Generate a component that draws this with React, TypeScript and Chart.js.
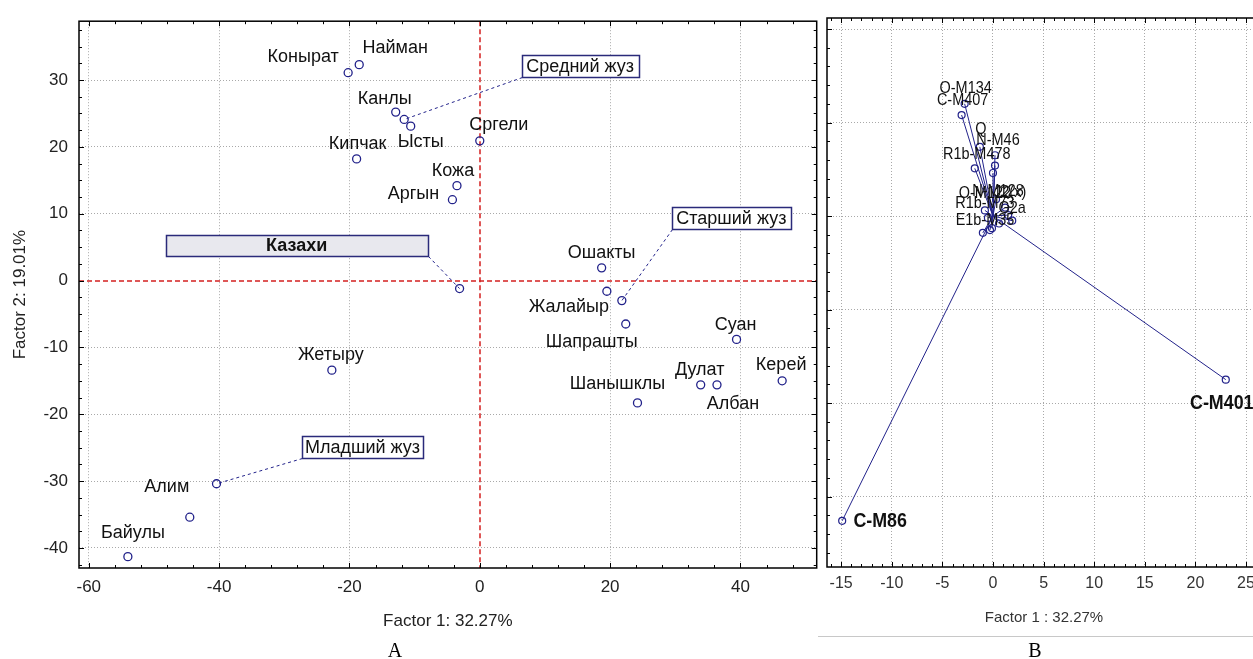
import React, { useEffect, useRef } from "react";
import { Chart, registerables } from "chart.js";
Chart.register(...registerables);

// ---------- Panel A data ----------
const CLANS = ["Конырат", "Найман", "Канлы", "", "Ысты", "Кипчак", "Сргели", "Кожа", "Аргын", "", "Ошакты", "Жалайыр", "", "Шапрашты", "Суан", "Дулат", "Албан", "Керей", "Шанышклы", "Жетыру", "", "Алим", "Байулы"];
const FACTOR1 = [-20.2, -18.5, -12.9, -11.6, -10.6, -18.9, 0.0, -3.5, -4.2, -3.1, 18.7, 19.5, 21.8, 22.4, 39.4, 33.9, 36.4, 46.4, 24.2, -22.7, -40.4, -44.5, -54.0];
const FACTOR2 = [31.1, 32.3, 25.2, 24.1, 23.1, 18.2, 20.9, 14.2, 12.1, -1.2, 1.9, -1.6, -3.0, -6.5, -8.8, -15.6, -15.6, -15.0, -18.3, -13.4, -30.4, -35.4, -41.3];
const GROUPS = ["Казахи", "Средний жуз", "Старший жуз", "Младший жуз"];
const GROUP_POINT = [9, 3, 12, 20];
const X_TICKS_A = [-60, -40, -20, 0, 20, 40];
const Y_TICKS_A = [-40, -30, -20, -10, 0, 10, 20, 30];

// ---------- Panel B data ----------
const HAPLOGROUPS = ["C-M86", "C-M401", "O-M134", "C-M407", "Q", "N-M46", "R1b-M478", "", "", "O-M122", "N-M128", "J2(x)", "R1b-M73", "G2a", "E1b-M35", "", "", "", ""];
const LOAD1 = [-14.9, 23.0, -2.8, -3.1, -1.3, 0.2, -1.8, 0.2, 0.0, -0.8, 0.3, 1.2, -0.5, 1.5, -0.3, -1.0, -0.1, 0.6, 1.9];
const LOAD2 = [-32.6, -17.5, 12.0, 10.8, 7.4, 6.5, 5.1, 5.4, 4.6, 0.6, 1.8, 0.9, -0.2, 0.1, -1.5, -1.8, -1.3, -0.8, -0.5];
const X_TICKS_B = [-15, -10, -5, 0, 5, 10, 15, 20, 25];
const Y_TICKS_B = [-30, -20, -10, 0, 10, 20];

// ---------- layout / styles ----------
const SANS = '"Liberation Sans", Arial, sans-serif';
const SERIF = '"Liberation Serif", "Times New Roman", serif';
const NAVY = "#22228a";
const GRID = "rgba(140,140,140,0.75)";

const LABEL_OFFSET_A: [number, number][] = [
  [-45, -16], [36, -17], [-11, -13], [0, 0], [10, 16], [1, -15], [19, -16], [-4, -15], [-39, -6], [0, 0],
  [0, -15], [-38, 16], [0, 0], [-34, 18], [-1, -14], [-1, -15], [16, 19], [-1, -16], [-20, -19], [-1, -15],
  [0, 0], [-23, -30], [5, -24],
];
const BOX_LAYOUT = [
  { cx: -28.1, cy: 5.26, w: 262, h: 21, fill: "#e8e8ee", bold: true, corner: "br" },
  { cx: 15.4, cy: 32.1, w: 117, h: 22, fill: "#ffffff", bold: false, corner: "bl" },
  { cx: 38.6, cy: 9.3, w: 119, h: 22, fill: "#ffffff", bold: false, corner: "bl" },
  { cx: -18.0, cy: -24.9, w: 121, h: 22, fill: "#ffffff", bold: false, corner: "bl" },
];
const LABEL_OFFSET_B: [number, number][] = [
  [38, 0], [-4, 24], [1, -16], [1, -15], [1, -18], [3, -15], [2, -14], [0, 0], [0, 0],
  [0, -17], [2, -8], [5, -15], [-3, -15], [4, -7], [-5, -10], [0, 0], [0, 0], [0, 0], [0, 0],
];

function drawFrame(chart: any, o: any) {
  const { ctx, chartArea: ca } = chart;
  const xs = chart.scales.x, ys = chart.scales.y;
  ctx.save();
  ctx.setLineDash([]);
  ctx.strokeStyle = "#000";
  ctx.lineWidth = 1.5;
  ctx.strokeRect(ca.left, ca.top, ca.right - ca.left, ca.bottom - ca.top);
  ctx.lineWidth = 1;
  ctx.beginPath();
  for (let k = Math.ceil(xs.min / o.xMinor); k * o.xMinor <= xs.max; k++) {
    const v = k * o.xMinor;
    const major = Math.abs(v / o.xMajor - Math.round(v / o.xMajor)) < 1e-6;
    const len = major ? 5 : 3;
    const px = Math.round(xs.getPixelForValue(v)) + 0.5;
    ctx.moveTo(px, ca.bottom); ctx.lineTo(px, ca.bottom - len);
    ctx.moveTo(px, ca.top); ctx.lineTo(px, ca.top + len);
  }
  for (let k = Math.ceil(ys.min / o.yMinor); k * o.yMinor <= ys.max; k++) {
    const v = k * o.yMinor;
    const major = Math.abs(v / o.yMajor - Math.round(v / o.yMajor)) < 1e-6;
    const len = major ? 5 : 3;
    const py = Math.round(ys.getPixelForValue(v)) + 0.5;
    ctx.moveTo(ca.left, py); ctx.lineTo(ca.left + len, py);
    ctx.moveTo(ca.right, py); ctx.lineTo(ca.right - len, py);
  }
  ctx.stroke();
  ctx.restore();
}

function narrowText(ctx: any, text: string, x: number, y: number, k: number) {
  ctx.save();
  ctx.translate(x, y);
  ctx.scale(k, 1);
  ctx.fillText(text, 0, 0);
  ctx.restore();
}

const pluginA = {
  id: "panelA",
  beforeDatasetsDraw(chart: any) {
    const { ctx, chartArea: ca } = chart;
    const xs = chart.scales.x, ys = chart.scales.y;
    ctx.save();
    ctx.strokeStyle = "#d42020";
    ctx.lineWidth = 1.5;
    ctx.setLineDash([5, 3]);
    const x0 = Math.round(xs.getPixelForValue(0));
    const y0 = Math.round(ys.getPixelForValue(0));
    ctx.beginPath();
    ctx.moveTo(x0, ca.top); ctx.lineTo(x0, ca.bottom);
    ctx.moveTo(ca.left, y0); ctx.lineTo(ca.right, y0);
    ctx.stroke();
    ctx.restore();
  },
  afterDatasetsDraw(chart: any) {
    const { ctx } = chart;
    const xs = chart.scales.x, ys = chart.scales.y;
    ctx.save();
    GROUPS.forEach((g, i) => {
      const b = BOX_LAYOUT[i];
      const cx = xs.getPixelForValue(b.cx), cy = ys.getPixelForValue(b.cy);
      const l = Math.round(cx - b.w / 2) + 0.5, t = Math.round(cy - b.h / 2) + 0.5;
      const sx = b.corner === "br" ? l + b.w : l;
      const sy = t + b.h;
      const p = GROUP_POINT[i];
      const px = xs.getPixelForValue(FACTOR1[p]), py = ys.getPixelForValue(FACTOR2[p]);
      ctx.strokeStyle = NAVY;
      ctx.lineWidth = 1;
      ctx.setLineDash([3, 3]);
      ctx.beginPath(); ctx.moveTo(sx, sy); ctx.lineTo(px, py); ctx.stroke();
      ctx.setLineDash([]);
      ctx.fillStyle = b.fill;
      ctx.fillRect(l, t, b.w, b.h);
      ctx.strokeStyle = "#2a2a7a";
      ctx.lineWidth = 1.5;
      ctx.strokeRect(l, t, b.w, b.h);
      ctx.fillStyle = "#111";
      ctx.font = `${b.bold ? "bold " : ""}18px ${SANS}`;
      ctx.textAlign = "center";
      ctx.textBaseline = "middle";
      ctx.fillText(g, cx, cy + 1);
    });
    ctx.fillStyle = "#111";
    ctx.font = `18px ${SANS}`;
    ctx.textAlign = "center";
    ctx.textBaseline = "middle";
    CLANS.forEach((name, i) => {
      if (!name) return;
      const px = xs.getPixelForValue(FACTOR1[i]), py = ys.getPixelForValue(FACTOR2[i]);
      const [dx, dy] = LABEL_OFFSET_A[i];
      ctx.fillText(name, px + dx, py + dy);
    });
    ctx.restore();
  },
  afterDraw(chart: any) {
    drawFrame(chart, { xMinor: 4, xMajor: 20, yMinor: 2.5, yMajor: 10 });
    const { ctx } = chart;
    ctx.save();
    ctx.fillStyle = "#000";
    ctx.font = `20px ${SERIF}`;
    ctx.textAlign = "center";
    ctx.textBaseline = "alphabetic";
    ctx.fillText("A", 395, 657);
    ctx.restore();
  },
};

const pluginB = {
  id: "panelB",
  afterDatasetsDraw(chart: any) {
    const { ctx } = chart;
    const xs = chart.scales.x, ys = chart.scales.y;
    ctx.save();
    ctx.fillStyle = "#111";
    ctx.textAlign = "center";
    ctx.textBaseline = "middle";
    HAPLOGROUPS.forEach((name, i) => {
      if (!name) return;
      const px = xs.getPixelForValue(LOAD1[i]), py = ys.getPixelForValue(LOAD2[i]);
      const [dx, dy] = LABEL_OFFSET_B[i];
      ctx.font = i < 2 ? `bold 21px ${SANS}` : `17px ${SANS}`;
      narrowText(ctx, name, px + dx, py + dy, 0.85);
    });
    ctx.restore();
  },
  afterDraw(chart: any) {
    drawFrame(chart, { xMinor: 1, xMajor: 5, yMinor: 2, yMajor: 10 });
    const { ctx } = chart;
    ctx.save();
    ctx.strokeStyle = "#c8c8c8";
    ctx.lineWidth = 1;
    ctx.beginPath(); ctx.moveTo(3, 636.5); ctx.lineTo(455, 636.5); ctx.stroke();
    ctx.fillStyle = "#000";
    ctx.font = `20px ${SERIF}`;
    ctx.textAlign = "center";
    ctx.textBaseline = "alphabetic";
    ctx.fillText("B", 220, 657);
    ctx.restore();
  },
};

function axisOpts(ticks: number[], extra: any, hideZero: boolean) {
  return {
    type: "linear",
    afterBuildTicks: (axis: any) => { axis.ticks = ticks.map((v) => ({ value: v })); },
    grid: {
      color: (c: any) => (hideZero && c.tick && c.tick.value === 0 ? "rgba(0,0,0,0)" : GRID),
      lineWidth: 1, drawTicks: false,
    },
    border: { display: false, dash: [1, 2] },
    ...extra,
  };
}

export default function App() {
  const refA = useRef<HTMLCanvasElement>(null);
  const refB = useRef<HTMLCanvasElement>(null);
  useEffect(() => {
    const chartA = new Chart(refA.current as HTMLCanvasElement, {
      type: "scatter",
      data: {
        datasets: [{
          data: FACTOR1.map((x, i) => ({ x, y: FACTOR2[i] })),
          pointRadius: 4, pointHoverRadius: 4, pointBorderWidth: 1.3,
          pointBorderColor: NAVY, pointBackgroundColor: "rgba(0,0,0,0)",
        }],
      },
      options: {
        animation: false, responsive: false, events: [],
        layout: { padding: { left: 0, top: 16, right: 5, bottom: 0 } },
        plugins: { legend: { display: false }, tooltip: { enabled: false } },
        scales: {
          x: axisOpts(X_TICKS_A, {
            min: -61.5, max: 51.7,
            afterFit: (s: any) => { s.height = 91; },
            ticks: { padding: 9, color: "#222", font: { family: SANS, size: 17 }, callback: (v: any) => String(v) },
            title: { display: true, text: "Factor 1: 32.27%", color: "#222", font: { family: SANS, size: 17 }, padding: { top: 0, bottom: 27 } },
          }, true),
          y: axisOpts(Y_TICKS_A, {
            min: -43.0, max: 38.8,
            afterFit: (s: any) => { s.width = 79; },
            ticks: { padding: 11, color: "#222", font: { family: SANS, size: 17 }, callback: (v: any) => String(v) },
            title: { display: true, text: "Factor 2: 19.01%", color: "#222", font: { family: SANS, size: 17 }, padding: { top: 10, bottom: 0 } },
          }, true),
        },
      } as any,
      plugins: [pluginA],
    } as any);

    const chartB = new Chart(refB.current as HTMLCanvasElement, {
      type: "scatter",
      data: {
        datasets: LOAD1.map((x, i) => ({
          data: [{ x: 0, y: 0 }, { x, y: LOAD2[i] }],
          showLine: true, borderColor: NAVY, borderWidth: 1,
          pointRadius: [0, 3.5], pointHoverRadius: [0, 3.5], pointBorderWidth: 1.2,
          pointBorderColor: NAVY, pointBackgroundColor: "rgba(0,0,0,0)",
        })),
      },
      options: {
        animation: false, responsive: false, events: [],
        layout: { padding: { left: 0, top: 18, right: 9, bottom: 0 } },
        plugins: { legend: { display: false }, tooltip: { enabled: false } },
        scales: {
          x: axisOpts(X_TICKS_B, {
            min: -16.4, max: 26.48,
            afterFit: (s: any) => { s.height = 92; },
            ticks: { padding: 7, color: "#333", font: { family: SANS, size: 16 }, callback: (v: any) => String(v) },
            title: { display: true, text: "Factor 1 : 32.27%", color: "#333", font: { family: SANS, size: 15 }, padding: { top: 0, bottom: 32 } },
          }, false),
          y: axisOpts(Y_TICKS_B, {
            min: -37.54, max: 21.18,
            afterFit: (s: any) => { s.width = 12; },
            ticks: { display: false },
          }, false),
        },
      } as any,
      plugins: [pluginB],
    } as any);

    return () => { chartA.destroy(); chartB.destroy(); };
  }, []);

  return (
    <div style={{ position: "fixed", left: 0, top: 0, width: 1253, height: 659, overflow: "hidden", background: "#fff" }}>
      <canvas ref={refA} width={822} height={659} style={{ position: "absolute", left: 0, top: 0 }} />
      <canvas ref={refB} width={455} height={659} style={{ position: "absolute", left: 815, top: 0 }} />
    </div>
  );
}
